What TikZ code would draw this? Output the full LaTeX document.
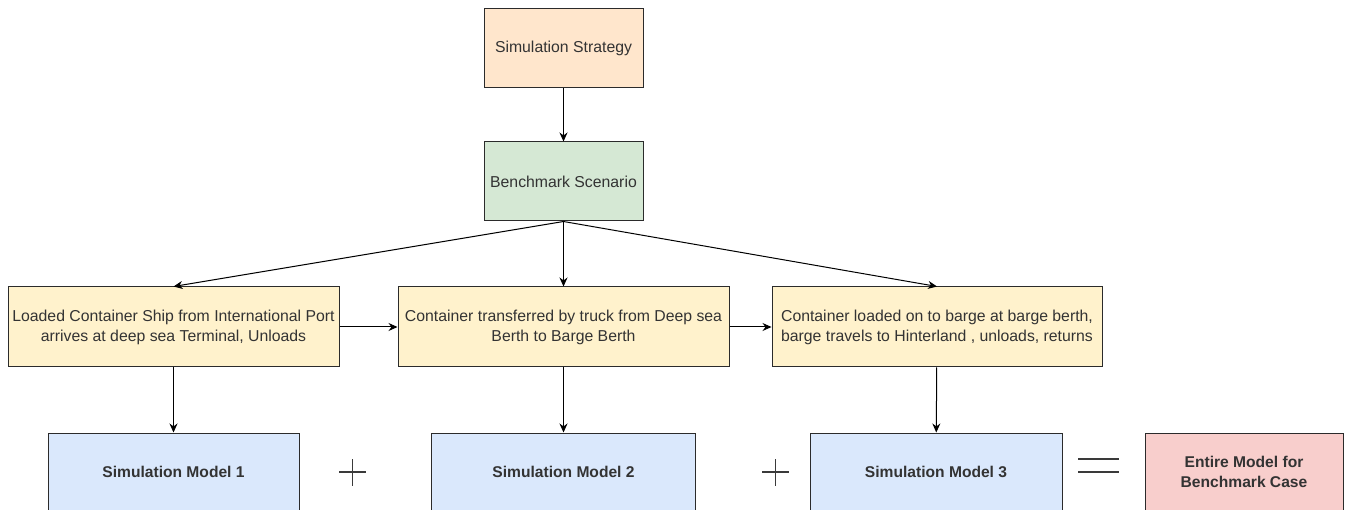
\documentclass[tikz,border=0pt]{standalone}
\usepackage{fontspec}
\setmainfont{Liberation Sans}
\usetikzlibrary{arrows.meta}

\definecolor{strokeC}{HTML}{2B2B2B}
\definecolor{textC}{HTML}{333333}
\definecolor{orangeF}{HTML}{FFE6CC}
\definecolor{greenF}{HTML}{D5E8D4}
\definecolor{yellowF}{HTML}{FFF2CC}
\definecolor{blueF}{HTML}{DAE8FC}
\definecolor{redF}{HTML}{F8CECC}
\definecolor{signC}{HTML}{3A3A3A}

\tikzset{
  box/.style={draw=strokeC, line width=1pt, rectangle, inner sep=0pt,
    align=center, text=textC, font=\fontsize{15.8}{20}\selectfont},
  topbox/.style={box, minimum width=159pt, minimum height=79pt},
  stagebox/.style={box, fill=yellowF, minimum height=80pt},
  modelbox/.style={box, fill=blueF, minimum height=78pt,
    font=\fontsize{15.6}{20}\selectfont\bfseries},
  flow/.style={draw=black, line width=1pt, -{Stealth[length=9pt,width=8pt]}},
  sign/.style={draw=signC, line width=1.1pt}
}

\begin{document}
\begin{tikzpicture}[x=1pt,y=-1pt]
  \useasboundingbox (0,0) rectangle (1349,510);
  \clip (0,0) rectangle (1349,510);
  \fill[white] (0,0) rectangle (1349,510);

  % strategy and scenario
  \node[topbox, fill=orangeF] (strat) at (563.5,48.5) {Simulation Strategy};
  \node[topbox, fill=greenF]  (bench) at (563.5,181.5) {Benchmark Scenario};

  % the three stages of the chain
  \node[stagebox, minimum width=331pt] (y1) at (173.5,327)
    {Loaded Container Ship from International Port\\arrives at deep sea Terminal, Unloads};
  \node[stagebox, minimum width=331pt] (y2) at (563.5,327)
    {Container transferred by truck from Deep sea\\Berth to Barge Berth};
  \node[stagebox, minimum width=330pt] (y3) at (937,327)
    {Container loaded on to barge at barge berth,\\barge travels to Hinterland , unloads, returns};

  % one simulation model per stage, and the combined model
  \node[modelbox, minimum width=251pt] (m1) at (173.5,472) {Simulation Model 1};
  \node[modelbox, minimum width=264pt] (m2) at (563.5,472) {Simulation Model 2};
  \node[modelbox, minimum width=252pt] (m3) at (936,472) {Simulation Model 3};
  \node[modelbox, fill=redF, minimum width=198pt] (ent) at (1244,472)
    {Entire Model for\\Benchmark Case};

  % connectors
  \draw[flow] (strat) -- (bench);
  \draw[flow] (bench.south) -- (y1.north);
  \draw[flow] (bench.south) -- (y2.north);
  \draw[flow] (bench.south) -- (y3.north);
  \draw[flow] (y1) -- (y2);
  \draw[flow] (y2) -- (y3);
  \draw[flow] (y1) -- (m1);
  \draw[flow] (y2) -- (m2);
  \draw[flow] (y3) -- (m3);

  % plus and equals signs between the models
  \draw[sign] (339,472) -- (366,472) (352.5,459) -- (352.5,486);
  \draw[sign] (762,472) -- (789,472) (775.5,459) -- (775.5,486);
  \draw[sign] (1078,459) -- (1119,459) (1078,472) -- (1119,472);
\end{tikzpicture}
\end{document}
